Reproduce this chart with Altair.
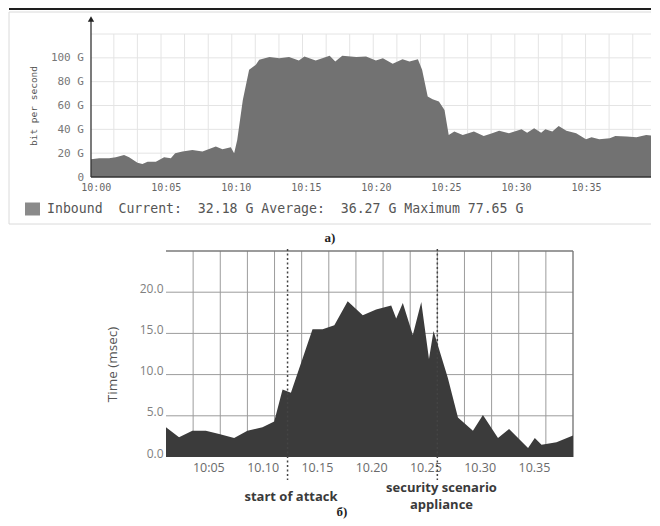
import json
import altair as alt
import pandas as pd

NB = "\u00a0"
MONO = "DejaVu Sans Mono"
SANS = "Open Sans"
SERIF = "Liberation Serif"

# ---------------- panel a) inbound traffic ----------------
top_minutes = [-0.34, 0.24, 0.95, 1.43, 2.02, 2.38, 2.98, 3.33, 3.7, 4.29, 4.88, 5.36, 5.67,
               6.19, 6.9, 7.62, 8.57, 9.05, 9.64, 9.88, 10.1, 10.5, 10.95, 11.43, 11.67,
               12.4, 13.1, 13.8, 14.5, 14.9, 15.7, 16.7, 17.1, 17.6, 18.6, 19.3, 20.0, 20.5,
               21.2, 21.9, 22.4, 23.0, 23.3, 23.7, 24.05, 24.5, 24.9, 25.2, 25.6, 26.2, 27.0,
               27.7, 28.3, 28.8, 29.5, 30.4, 30.8, 31.3, 31.8, 32.1, 32.6, 33.05, 33.6, 34.3,
               35.0, 35.4, 35.95, 36.7, 37.1, 37.9, 38.6, 39.3, 40.0]
top_gbps = [14.9, 15.7, 15.7, 16.5, 18.5, 16.5, 12.0, 10.9, 12.9, 12.9, 16.5, 15.7, 19.9,
            21.3, 22.7, 21.3, 25.5, 23.3, 25.0, 19.9, 31.1, 64.7, 89.9, 94.1, 98.3,
            100.6, 99.7, 100.6, 97.7, 101.1, 97.7, 101.7, 96.9, 101.7, 100.6, 101.1, 97.7, 99.7,
            95.0, 98.9, 96.9, 98.9, 89.9, 67.5, 65.3, 63.3, 56.3, 35.3, 38.1, 35.3, 38.1,
            34.5, 36.7, 38.9, 36.7, 40.1, 37.2, 40.9, 37.2, 40.1, 38.1, 42.9, 38.9, 36.7,
            31.7, 33.4, 31.7, 32.5, 34.5, 33.9, 33.4, 35.3, 34.5]
top_x_ticks = [0, 5, 10, 15, 20, 25, 30, 35]
top_x_labels = ["10:00", "10:05", "10:10", "10:15", "10:20", "10:25", "10:30", "10:35"]
top_y_ticks = [0, 20, 40, 60, 80, 100]
top_y_labels = ["0" + NB + NB, "20" + NB + "G", "40" + NB + "G", "60" + NB + "G",
                "80" + NB + "G", "100" + NB + "G"]
top_y_grid = [20, 40, 60, 80, 100, 120]
top_x_grid = [1.29, 2.97, 4.66, 6.34, 8.03, 9.71, 11.39, 13.08, 14.76, 16.45, 18.13, 19.81,
              21.50, 23.18, 24.87, 26.55, 28.23, 29.92, 31.60, 33.29, 34.97, 36.65, 38.34, 40.0]
top_y_title = "bit per second"
legend_text = "Inbound  Current:  32.18 G Average:  36.27 G Maximum 77.65 G"
caption_a = "a)"

# ---------------- panel б) response time ----------------
bot_minutes = [1.1, 2.3, 3.53, 4.77, 6.0, 7.38, 8.6, 9.99, 11.07, 11.84, 12.61, 14.6, 15.53,
               16.61, 17.84, 19.23, 20.46, 21.85, 22.31, 22.92, 23.84, 24.62, 25.33, 25.75,
               27.07, 28.0, 29.38, 30.3, 31.69, 32.71, 34.46, 35.08, 35.7, 37.08, 38.6]
bot_msec = [3.6, 2.4, 3.2, 3.2, 2.8, 2.3, 3.2, 3.6, 4.3, 8.2, 7.8, 15.5, 15.5,
            16.0, 18.9, 17.2, 17.9, 18.4, 16.8, 18.7, 14.8, 18.8, 11.9, 15.3,
            9.6, 4.8, 3.2, 5.1, 2.3, 3.4, 1.1, 2.3, 1.5, 1.8, 2.6]
bot_x_ticks = [5, 10, 15, 20, 25, 30, 35]
bot_x_labels = ["10:05", "10.10", "10.15", "10.20", "10.25", "10.30", "10.35"]
bot_y_ticks = [0, 5, 10, 15, 20]
bot_y_grid = [5, 10, 15, 20]
bot_x_grid = [3.6, 6.1, 8.6, 11.1, 13.6, 16.1, 18.6, 21.1, 23.6, 26.1, 28.6, 31.1, 33.6, 36.1]
bot_frame_x = [38.6]
bot_frame_y = [25]
event_minutes = [12.3, 26.1]
bot_y_title = "Time (msec)"
attack_label = "start of attack"
security_label = ["security scenario", "appliance"]
caption_b = "б)"


def label_expr(ticks, labels):
    return "%s[indexof(%s, datum.value)]" % (json.dumps(labels, ensure_ascii=False), json.dumps(ticks))


one = pd.DataFrame({"k": [0]})

# ---------- top chart ----------
TW, TH = 565, 143
tx = alt.Scale(domain=[-0.34, 40.0], nice=False, zero=False)
ty = alt.Scale(domain=[0, 120], nice=False, zero=False)
top_x_axis = alt.Axis(values=top_x_ticks, labelExpr=label_expr(top_x_ticks, top_x_labels),
                      ticks=False, tickSize=0, domain=False, grid=False, labelFont=MONO,
                      labelFontSize=10, labelColor="#666666", labelPadding=5, title=None)
top_y_axis = alt.Axis(values=top_y_ticks, labelExpr=label_expr(top_y_ticks, top_y_labels),
                      ticks=False, tickSize=0, domain=False, grid=False, labelFont=MONO,
                      labelFontSize=11, labelColor="#777777", labelPadding=7.5,
                      title=top_y_title, titleFont=MONO, titleFontSize=9.5,
                      titleFontWeight="normal", titleColor="#555555", titleX=-58,
                      titleBaseline="middle")

df_top = pd.DataFrame({"t": top_minutes, "v": top_gbps})

t_vgrid = alt.Chart(pd.DataFrame({"t": top_x_grid})).mark_rule(color="#e4e4e4", strokeWidth=1).encode(
    x=alt.X("t:Q", scale=tx, axis=top_x_axis), y=alt.value(0), y2=alt.value(TH))
t_hgrid = alt.Chart(pd.DataFrame({"v": top_y_grid})).mark_rule(color="#e4e4e4", strokeWidth=1).encode(
    y=alt.Y("v:Q", scale=ty, axis=top_y_axis), x=alt.value(0), x2=alt.value(TW))
t_area = alt.Chart(df_top).mark_area(color="#727272", opacity=1).encode(
    x=alt.X("t:Q", scale=tx, axis=top_x_axis), y=alt.Y("v:Q", scale=ty, axis=top_y_axis))
t_yline = alt.Chart(one).mark_rule(color="#333333", strokeWidth=1.3).encode(
    x=alt.value(0), y=alt.value(-14), y2=alt.value(TH))
t_xline = alt.Chart(one).mark_rule(color="#333333", strokeWidth=1.3).encode(
    x=alt.value(0), x2=alt.value(TW + 1), y=alt.value(TH))
t_uparrow = alt.Chart(one).mark_point(shape="triangle-up", filled=True, size=40, color="#222222",
                                     opacity=1).encode(x=alt.value(0), y=alt.value(-15))
t_rarrow = alt.Chart(one).mark_point(shape="triangle-right", filled=True, size=40, color="#222222",
                                    opacity=1).encode(x=alt.value(TW + 2), y=alt.value(TH))
t_swatch = alt.Chart(one).mark_rect(color="#8a8a8a").encode(
    x=alt.value(-66), x2=alt.value(-51), y=alt.value(168.5), y2=alt.value(181.5))
t_legend = alt.Chart(one).mark_text(align="left", baseline="middle", font=MONO, fontSize=13.2,
                                    color="#555555", text=legend_text.replace(" ", NB)).encode(
    x=alt.value(-44), y=alt.value(175))
t_caption = alt.Chart(one).mark_text(align="center", baseline="middle", font=SERIF, fontSize=13,
                                     fontWeight="bold", color="#222222", text=caption_a).encode(
    x=alt.value(239), y=alt.value(204))
t_border = alt.Chart(one).mark_rect(fillOpacity=0, stroke="#dadada", strokeWidth=1).encode(
    x=alt.value(-82), x2=alt.value(566), y=alt.value(-22), y2=alt.value(190))
t_topline = alt.Chart(one).mark_rule(color="#1e1e1e", strokeWidth=2).encode(
    x=alt.value(-82), x2=alt.value(567), y=alt.value(-25))

top = alt.layer(t_border, t_topline, t_vgrid, t_hgrid, t_area, t_yline, t_xline, t_uparrow,
                t_rarrow, t_swatch, t_legend, t_caption).properties(width=TW, height=TH)

# ---------- bottom chart ----------
BW, BH = 407, 206
bx = alt.Scale(domain=[1.1, 38.6], nice=False, zero=False)
by = alt.Scale(domain=[0, 25], nice=False, zero=False)
bot_x_axis = alt.Axis(values=bot_x_ticks, labelExpr=label_expr(bot_x_ticks, bot_x_labels),
                      ticks=False, tickSize=0, domain=False, grid=False, labelFont=SANS,
                      labelFontSize=12.5, labelColor="#6a6a6a", labelPadding=4, title=None)
bot_y_axis = alt.Axis(values=bot_y_ticks, format=".1f", ticks=False, tickSize=0, domain=False,
                      grid=False, labelFont=SANS, labelFontSize=12, labelColor="#808080",
                      labelPadding=3, labelBaseline="alphabetic", title=bot_y_title,
                      titleFont=SANS, titleFontSize=13.5, titleFontWeight="normal",
                      titleColor="#555555", titleX=-54, titleY=113, titleBaseline="middle")

df_bot = pd.DataFrame({"t": bot_minutes, "v": bot_msec})

b_vgrid = alt.Chart(pd.DataFrame({"t": bot_x_grid})).mark_rule(color="#9c9c9c", strokeWidth=1).encode(
    x=alt.X("t:Q", scale=bx, axis=bot_x_axis), y=alt.value(0), y2=alt.value(BH))
b_hgrid = alt.Chart(pd.DataFrame({"v": bot_y_grid})).mark_rule(color="#9c9c9c", strokeWidth=1).encode(
    y=alt.Y("v:Q", scale=by, axis=bot_y_axis), x=alt.value(0), x2=alt.value(BW))
b_frame_r = alt.Chart(pd.DataFrame({"t": bot_frame_x})).mark_rule(color="#7a7a7a", strokeWidth=1.4).encode(
    x=alt.X("t:Q", scale=bx, axis=bot_x_axis), y=alt.value(0), y2=alt.value(BH))
b_frame_t = alt.Chart(pd.DataFrame({"v": bot_frame_y})).mark_rule(color="#7a7a7a", strokeWidth=1.4).encode(
    y=alt.Y("v:Q", scale=by, axis=bot_y_axis), x=alt.value(0), x2=alt.value(BW))
b_area = alt.Chart(df_bot).mark_area(color="#3b3b3b", opacity=1).encode(
    x=alt.X("t:Q", scale=bx, axis=bot_x_axis), y=alt.Y("v:Q", scale=by, axis=bot_y_axis))
b_events = alt.Chart(pd.DataFrame({"t": event_minutes})).mark_rule(
    color="#444444", strokeWidth=1.5, strokeDash=[2, 2.5]).encode(
    x=alt.X("t:Q", scale=bx, axis=bot_x_axis), y=alt.value(-2), y2=alt.value(229))
b_text_attack = alt.Chart(one).mark_text(align="center", baseline="middle", font=SANS, fontSize=13,
                                         fontWeight="bold", color="#3a3a3a", text=attack_label).encode(
    x=alt.value(125), y=alt.value(246))
b_text_sec = alt.Chart(one).mark_text(align="center", baseline="top", font=SANS, fontSize=13,
                                      fontWeight="bold", color="#3a3a3a", lineHeight=17,
                                      text=security_label).encode(
    x=alt.value(275.5), y=alt.value(231))
b_caption = alt.Chart(one).mark_text(align="center", baseline="middle", font=SERIF, fontSize=13,
                                     fontWeight="bold", color="#222222", text=caption_b).encode(
    x=alt.value(176), y=alt.value(261))
b_pad = alt.Chart(one).mark_rule(color="white", strokeWidth=1).encode(
    x=alt.value(-64), y=alt.value(0), y2=alt.value(1))

bottom = alt.layer(b_pad, b_vgrid, b_hgrid, b_frame_r, b_frame_t, b_area, b_events, b_text_attack,
                   b_text_sec, b_caption).properties(width=BW, height=BH)

spacer = alt.Chart(one).mark_rule(color="white", strokeWidth=1).encode(
    x=alt.value(0), x2=alt.value(9.5), y=alt.value(0)).properties(width=9, height=5)

chart = alt.vconcat(top, alt.hconcat(spacer, bottom, spacing=0), spacing=3).properties(
    padding={"left": 0, "top": 0, "right": -10, "bottom": 0},
    background="white").configure_view(strokeWidth=0)

chart.save("out.html", embed_options={"renderer": "svg", "actions": False})
